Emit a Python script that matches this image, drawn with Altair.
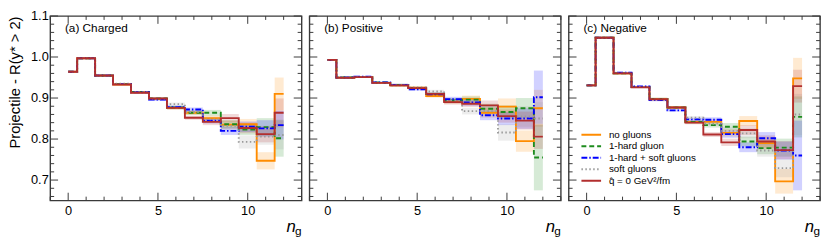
import altair as alt
import pandas as pd

# ---------------- data ----------------
n_bins = list(range(13))
series = ["no gluons", "1-hard gluon", "1-hard + soft gluons", "soft gluons", "q̂ = 0 GeV²/fm"]
colors = ["#ff8c00", "#1e8c1e", "#0000ff", "#9a9a9a", "#b22e2e"]
dashes = [[1, 0], [5, 3], [6, 2, 1.5, 2], [1.5, 2.5], [1, 0]]

# (a) Charged
a_orange = [0.964, 0.997, 0.954, 0.933, 0.914, 0.898, 0.876, 0.864, 0.851, 0.835, 0.836, 0.747, 0.910]
a_green  = [0.964, 0.997, 0.955, 0.934, 0.915, 0.899, 0.877, 0.864, 0.864, 0.836, 0.823, 0.829, 0.802]
a_blue   = [0.964, 0.997, 0.955, 0.934, 0.914, 0.896, 0.878, 0.872, 0.845, 0.820, 0.830, 0.826, 0.834]
a_gray   = [0.964, 0.997, 0.955, 0.935, 0.914, 0.899, 0.885, 0.866, 0.848, 0.832, 0.793, 0.806, 0.810]
a_red    = [0.964, 0.997, 0.955, 0.933, 0.913, 0.899, 0.876, 0.852, 0.842, 0.851, 0.827, 0.812, 0.864]
a_err_orange = [0.002, 0.002, 0.002, 0.002, 0.002, 0.003, 0.004, 0.005, 0.007, 0.010, 0.013, 0.021, 0.040]
a_err_green  = [0.002, 0.002, 0.002, 0.002, 0.002, 0.003, 0.004, 0.005, 0.007, 0.010, 0.013, 0.022, 0.045]
a_err_blue   = [0.002, 0.002, 0.002, 0.002, 0.002, 0.003, 0.004, 0.005, 0.007, 0.010, 0.013, 0.020, 0.035]
a_err_gray   = [0.002, 0.002, 0.002, 0.002, 0.002, 0.003, 0.004, 0.005, 0.007, 0.010, 0.016, 0.020, 0.035]
a_err_red    = [0.002, 0.002, 0.002, 0.002, 0.002, 0.003, 0.004, 0.005, 0.008, 0.010, 0.013, 0.020, 0.035]

# (b) Positive
b_orange = [0.993, 0.950, 0.951, 0.937, 0.931, 0.925, 0.905, 0.892, 0.898, 0.864, 0.879, 0.795, 0.875]
b_green  = [0.993, 0.950, 0.951, 0.938, 0.932, 0.924, 0.910, 0.894, 0.896, 0.874, 0.866, 0.875, 0.755]
b_blue   = [0.993, 0.950, 0.952, 0.938, 0.932, 0.921, 0.909, 0.897, 0.889, 0.858, 0.850, 0.850, 0.902]
b_gray   = [0.993, 0.950, 0.951, 0.937, 0.931, 0.926, 0.916, 0.893, 0.868, 0.868, 0.816, 0.855, 0.850]
b_red    = [0.993, 0.949, 0.951, 0.937, 0.931, 0.924, 0.910, 0.890, 0.886, 0.882, 0.856, 0.845, 0.806]
b_err_orange = [0.002, 0.002, 0.002, 0.002, 0.003, 0.003, 0.004, 0.006, 0.008, 0.012, 0.020, 0.026, 0.045]
b_err_green  = [0.002, 0.002, 0.002, 0.002, 0.003, 0.003, 0.004, 0.006, 0.008, 0.012, 0.016, 0.025, 0.080]
b_err_blue   = [0.002, 0.002, 0.002, 0.002, 0.003, 0.003, 0.004, 0.006, 0.008, 0.012, 0.016, 0.025, 0.065]
b_err_gray   = [0.002, 0.002, 0.002, 0.002, 0.003, 0.003, 0.004, 0.006, 0.008, 0.012, 0.020, 0.025, 0.040]
b_err_red    = [0.002, 0.002, 0.002, 0.002, 0.003, 0.003, 0.004, 0.006, 0.008, 0.012, 0.016, 0.022, 0.030]

# (c) Negative
c_orange = [0.931, 1.047, 0.960, 0.927, 0.898, 0.877, 0.842, 0.842, 0.815, 0.844, 0.790, 0.697, 0.948]
c_green  = [0.931, 1.047, 0.960, 0.927, 0.898, 0.877, 0.842, 0.834, 0.830, 0.794, 0.778, 0.779, 0.854]
c_blue   = [0.931, 1.047, 0.962, 0.928, 0.895, 0.870, 0.848, 0.847, 0.812, 0.780, 0.802, 0.772, 0.760]
c_gray   = [0.931, 1.047, 0.960, 0.927, 0.897, 0.877, 0.852, 0.838, 0.820, 0.814, 0.772, 0.729, 0.860]
c_red    = [0.931, 1.047, 0.960, 0.926, 0.897, 0.877, 0.840, 0.811, 0.792, 0.822, 0.794, 0.773, 0.929]
c_err_orange = [0.002, 0.002, 0.002, 0.002, 0.003, 0.003, 0.004, 0.006, 0.009, 0.012, 0.015, 0.030, 0.050]
c_err_green  = [0.002, 0.002, 0.002, 0.002, 0.003, 0.003, 0.004, 0.006, 0.009, 0.012, 0.015, 0.022, 0.050]
c_err_blue   = [0.002, 0.002, 0.002, 0.002, 0.003, 0.003, 0.004, 0.006, 0.009, 0.012, 0.015, 0.022, 0.085]
c_err_gray   = [0.002, 0.002, 0.002, 0.002, 0.003, 0.003, 0.004, 0.006, 0.009, 0.012, 0.015, 0.022, 0.050]
c_err_red    = [0.002, 0.002, 0.002, 0.002, 0.003, 0.003, 0.004, 0.006, 0.009, 0.012, 0.015, 0.022, 0.040]

panel_labels = {"a": "(a) Charged", "b": "(b) Positive", "c": "(c) Negative"}

y_major = [0.7, 0.8, 0.9, 1.0, 1.1]
y_minor = [0.66, 0.68, 0.72, 0.74, 0.76, 0.78, 0.82, 0.84, 0.86, 0.88,
           0.92, 0.94, 0.96, 0.98, 1.02, 1.04, 1.06, 1.08]
x_major = [0, 5, 10]
x_minor = [-1, 1, 2, 3, 4, 6, 7, 8, 9, 11, 12, 13]

# ---------------- table ----------------
panel_data = {
    "a": ([a_orange, a_green, a_blue, a_gray, a_red],
          [a_err_orange, a_err_green, a_err_blue, a_err_gray, a_err_red]),
    "b": ([b_orange, b_green, b_blue, b_gray, b_red],
          [b_err_orange, b_err_green, b_err_blue, b_err_gray, b_err_red]),
    "c": ([c_orange, c_green, c_blue, c_gray, c_red],
          [c_err_orange, c_err_green, c_err_blue, c_err_gray, c_err_red]),
}
rows = []
for p, (vals, errs) in panel_data.items():
    for si, s in enumerate(series):
        for k, nb in enumerate(n_bins):
            v, e = vals[si][k], errs[si][k]
            rows.append({"panel": p, "series": s, "order": si, "n": nb, "val": v,
                         "lo": v - e, "hi": v + e,
                         "x0": max(nb - 0.5, 0), "x1": min(nb + 0.5, 12)})
df = pd.DataFrame(rows)

W, H = 256, 188
FONT = "Liberation Sans"
FRAME = "#3a3a3a"

xscale = alt.Scale(domain=[-1, 13], nice=False, zero=False)
yscale = alt.Scale(domain=[0.65, 1.1], nice=False, zero=False)
stroke_scale = alt.Scale(domain=series, range=colors)
dash_scale = alt.Scale(domain=series, range=dashes)
xaxis = alt.Axis(values=x_major, ticks=False, domain=False, grid=False, title=None,
                 labelFontSize=13, labelPadding=4, labelFont=FONT, labelColor="black")
yaxis_a = alt.Axis(values=y_major, format=".1f", ticks=False, domain=False, grid=False,
                   title="Projectile - R(y* > 2)", titleAnchor="end", titleFontSize=15,
                   titleFont=FONT, titleFontWeight="normal", titlePadding=8, titleColor="black",
                   labelFontSize=13, labelPadding=2, labelFont=FONT, labelColor="black")
yaxis_bc = alt.Axis(values=y_major, ticks=False, domain=False, grid=False, labels=False,
                    title=None)


def tick_layer(vals, axis_dim, length, side, yaxis):
    d = pd.DataFrame({"v": vals})
    base = alt.Chart(d).mark_rule(color=FRAME, strokeWidth=1)
    if axis_dim == "y":
        x0, x1 = (0, length) if side == "left" else (W, W - length)
        return base.encode(y=alt.Y("v:Q", scale=yscale, axis=yaxis),
                           x=alt.value(x0), x2=alt.value(x1))
    else:
        y0, y1 = (H, H - length) if side == "bottom" else (0, length)
        return base.encode(x=alt.X("v:Q", scale=xscale, axis=xaxis),
                           y=alt.value(y0), y2=alt.value(y1))


def legend_layers():
    out = []
    for i, s in enumerate(series):
        ypix = 121 + 11.7 * i
        d = pd.DataFrame({"series": [s]})
        out.append(alt.Chart(d).mark_rule(strokeWidth=2).encode(
            x=alt.value(13), x2=alt.value(33), y=alt.value(ypix),
            stroke=alt.Stroke("series:N", scale=stroke_scale, legend=None),
            strokeDash=alt.StrokeDash("series:N", scale=dash_scale, legend=None)))
        out.append(alt.Chart(d).mark_text(
            align="left", baseline="middle", fontSize=10, font=FONT, color="black"
        ).encode(text="series:N", x=alt.value(41), y=alt.value(ypix)))
    return out


def panel(p):
    d = df[df.panel == p]
    yaxis = yaxis_a if p == "a" else yaxis_bc
    bands = alt.Chart(d).mark_rect(opacity=0.18).encode(
        x=alt.X("x0:Q", scale=xscale, axis=xaxis),
        x2="x1:Q",
        y=alt.Y("lo:Q", scale=yscale, axis=yaxis),
        y2="hi:Q",
        fill=alt.Fill("series:N", scale=alt.Scale(domain=series, range=colors), legend=None),
    )
    lines = alt.Chart(d).mark_line(interpolate="step", strokeWidth=1.9).encode(
        x=alt.X("n:Q", scale=xscale, axis=xaxis),
        y=alt.Y("val:Q", scale=yscale, axis=yaxis),
        stroke=alt.Stroke("series:N", scale=stroke_scale, legend=None),
        strokeDash=alt.StrokeDash("series:N", scale=dash_scale, legend=None),
        order="n:Q",
    )
    ticks = [
        tick_layer(y_major, "y", 8, "left", yaxis), tick_layer(y_minor, "y", 4, "left", yaxis),
        tick_layer(y_major, "y", 8, "right", yaxis), tick_layer(y_minor, "y", 4, "right", yaxis),
        tick_layer(x_major, "x", 8, "bottom", yaxis), tick_layer(x_minor, "x", 4, "bottom", yaxis),
        tick_layer(x_major, "x", 8, "top", yaxis), tick_layer(x_minor, "x", 4, "top", yaxis),
    ]
    lab = alt.Chart(pd.DataFrame({"t": [panel_labels[p]]})).mark_text(
        align="left", baseline="alphabetic", fontSize=12, font=FONT, color="black"
    ).encode(text="t:N", x=alt.value(15), y=alt.value(16))
    nlab = alt.Chart(pd.DataFrame({"t": ["n"]})).mark_text(
        align="right", baseline="alphabetic", fontSize=17, fontStyle="italic", font=FONT, color="black"
    ).encode(text="t:N", x=alt.value(W - 6), y=alt.value(H + 32))
    glab = alt.Chart(pd.DataFrame({"t": ["g"]})).mark_text(
        align="right", baseline="alphabetic", fontSize=12, font=FONT, color="black"
    ).encode(text="t:N", x=alt.value(W), y=alt.value(H + 35))
    layers = [bands, lines, *ticks, lab, nlab, glab]
    if p == "c":
        layers += legend_layers()
    return alt.layer(*layers).properties(width=W, height=H)


chart = alt.hconcat(panel("a"), panel("b"), panel("c"), spacing=4).properties(
    padding={"left": -1, "top": -1, "right": 0, "bottom": 0}
).configure_view(stroke=FRAME, strokeWidth=1.4).configure_axis(grid=False)

chart.save("out.html", embed_options={"renderer": "svg", "actions": False})
